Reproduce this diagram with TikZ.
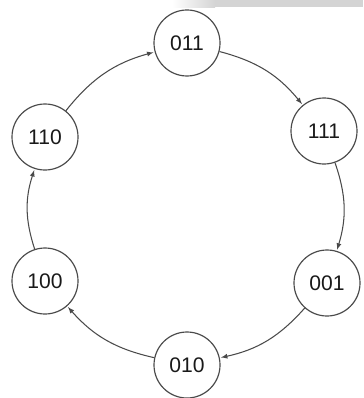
\documentclass[tikz,border=0pt]{standalone}
\usepackage{fontspec}
\setmainfont{Liberation Sans}
\usetikzlibrary{arrows,positioning}

\definecolor{barcol}{HTML}{D4D4D4}
\definecolor{edgecol}{HTML}{4A4A4A}

\begin{document}
\begin{tikzpicture}[x=0.03cm,y=-0.03cm,
  state/.style={draw=edgecol,circle,line width=1pt,minimum size=1.98cm,inner sep=0pt,
    font=\fontsize{18}{20}\selectfont,text=black!90},
  trans/.style={-latex,draw=edgecol,line width=0.9pt,bend left=18,shorten >=1pt}]
  \useasboundingbox (0,0) rectangle (363,398);
  % grey band along the top edge
  \shade[left color=white,right color=barcol] (172,0) rectangle (215,7.5);
  \fill[barcol] (215,0) rectangle (363,7.5);
  % the six states
  \node[state] (s011) at (187,43) {011};
  \node[state] (s111) at (324,131) {111};
  \node[state] (s001) at (327,283) {001};
  \node[state] (s010) at (187,365) {010};
  \node[state] (s100) at (45,281) {100};
  \node[state] (s110) at (45,137) {110};
  % transitions
  \draw[trans] (s110) to (s011);
  \draw[trans] (s011) to (s111);
  \draw[trans] (s111) to (s001);
  \draw[trans] (s001) to (s010);
  \draw[trans] (s010) to (s100);
  \draw[trans] (s100) to (s110);
\end{tikzpicture}
\end{document}
